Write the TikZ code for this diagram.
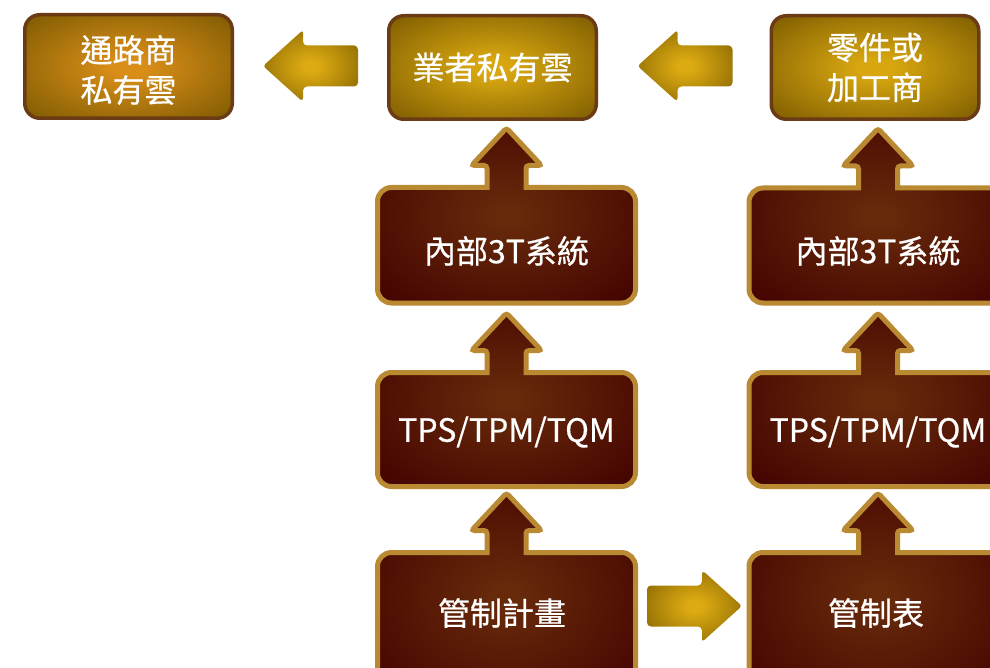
\documentclass[tikz,border=0pt]{standalone}
\usepackage{fontspec}
\setmainfont{Noto Sans CJK TC}
\definecolor{gboxC}{HTML}{D8A710}
\definecolor{gboxO}{HTML}{765600}
\definecolor{gboxOr}{HTML}{D98E18}
\definecolor{gboxB}{HTML}{6A3B14}
\definecolor{dboxC}{HTML}{66290A}
\definecolor{dboxO}{HTML}{420100}
\definecolor{dboxB}{HTML}{B98A32}
\definecolor{arrC}{HTML}{DCAA12}
\definecolor{arrO}{HTML}{7A5C00}
\pgfdeclareradialshading{goldglow}{\pgfpoint{0bp}{0bp}}{color(0bp)=(gboxC); color(4bp)=(gboxC); color(38bp)=(gboxO); color(60bp)=(gboxO)}
\pgfdeclareradialshading{orangeglow}{\pgfpoint{0bp}{0bp}}{color(0bp)=(gboxOr); color(4bp)=(gboxOr); color(38bp)=(gboxO); color(60bp)=(gboxO)}
\pgfdeclareradialshading{darkglow}{\pgfpoint{0bp}{0bp}}{color(0bp)=(dboxC); color(3bp)=(dboxC); color(36bp)=(dboxO); color(60bp)=(dboxO)}
\pgfdeclareradialshading{arrowglow}{\pgfpoint{0bp}{0bp}}{color(0bp)=(arrC); color(4bp)=(arrC); color(38bp)=(arrO); color(60bp)=(arrO)}
\tikzset{
  goldbox/.style={draw=gboxB, line width=3.5pt, rounded corners=15pt,
    shade, shading=goldglow,
    minimum width=207.5pt, minimum height=103.5pt, text=white, align=center,
    font=\fontsize{32}{40}\selectfont\addfontfeature{FakeBold=0.6}},
  gtext/.style={text=white, align=center, inner sep=0pt,
    font=\fontsize{32}{40}\selectfont\addfontfeature{FakeBold=0.6}},
  darkshape/.style={draw=dboxB, line width=5pt, shade, shading=darkglow},
  lbl/.style={text=white, font=\fontsize{32}{38}\selectfont\addfontfeature{FakeBold=0.6}, inner sep=0pt},
  blockarrow/.style={shade, shading=arrowglow, rounded corners=4pt}
}
% cx, top, bottom
\newcommand\DarkShape[3]{%
  \path[darkshape] (#1,#3) [rounded corners=14pt] -- (#1-129,#3) -- (#1-129,#2)
    [sharp corners] -- (#1-19.5,#2) [rounded corners=3pt] -- (#1-19.5,#2-22)
    -- (#1-35,#2-22) -- (#1,#2-59.5) -- (#1+35,#2-22) -- (#1+19.5,#2-22)
    [sharp corners] -- (#1+19.5,#2) [rounded corners=14pt] -- (#1+129,#2)
    -- (#1+129,#3) -- cycle;}
% cx, cy, rotation
\newcommand\BlockArrow[3]{%
  \path[blockarrow, shift={(#1,#2)}, rotate=#3]
    (-47.5,-20.5) -- (7.5,-20.5) -- (7.5,-36) [rounded corners=3pt] -- (47.5,0)
    -- (7.5,36) [rounded corners=4pt] -- (7.5,20.5) -- (-47.5,20.5) -- cycle;}
\begin{document}
\begin{tikzpicture}[x=1pt,y=-1pt]
\useasboundingbox (0,0) rectangle (990,668);
\clip (0,0) rectangle (990,668);
% top row
\node[goldbox, shading=orangeglow] (dist) at (128.5,66.5) {};
\node[gtext] (distlbl) at (128.5,70) {通路商\\私有雲};
\node[goldbox] (own) at (492.5,67.5) {業者私有雲};
\node[goldbox] (supp) at (875,67.5) {零件或\\加工商};
% column 1
\DarkShape{506.5}{187.5}{303}
\DarkShape{506.5}{372.5}{486.5}
\DarkShape{506.5}{552.5}{700}
\node[lbl] (sys1) at (506.5,251) {內部3T系統};
\node[lbl] (tps1) at (506.5,432) {TPS/TPM/TQM};
\node[lbl] (plan) at (502,613) {管制計畫};
% column 2
\DarkShape{878}{188}{303}
\DarkShape{878}{372.5}{486.5}
\DarkShape{878}{552.5}{700}
\node[lbl] (sys2) at (878,251) {內部3T系統};
\node[lbl] (tps2) at (878,432) {TPS/TPM/TQM};
\node[lbl] (tab) at (876,613) {管制表};
% block arrows
\BlockArrow{310.5}{66}{180}
\BlockArrow{685}{66}{180}
\BlockArrow{694.5}{606}{0}
\end{tikzpicture}
\end{document}
